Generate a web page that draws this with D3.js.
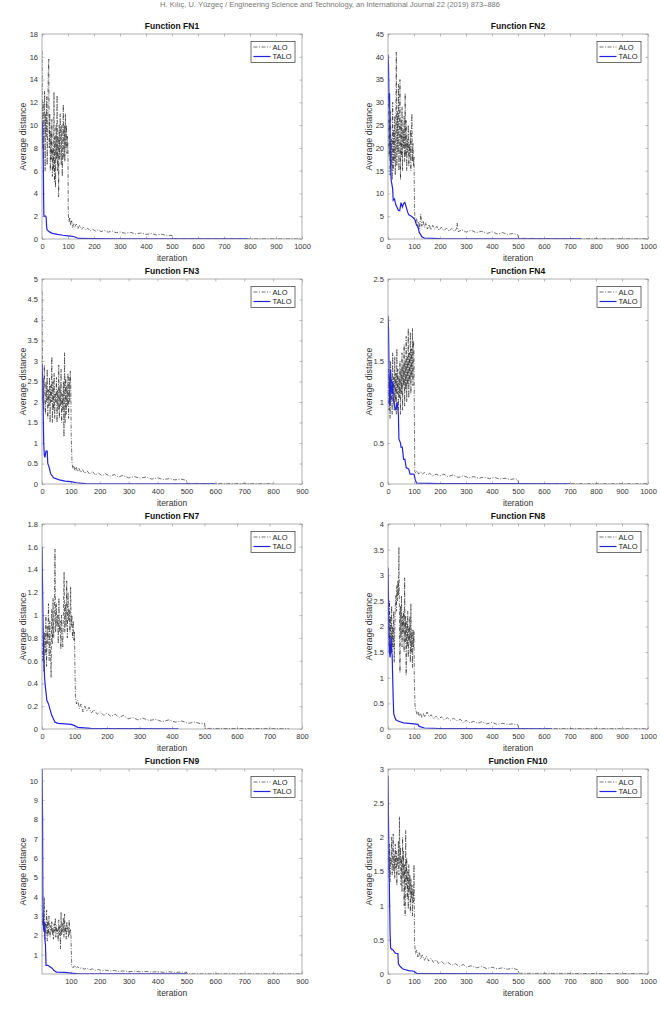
<!DOCTYPE html>
<html>
<head>
<meta charset="utf-8">
<script src="https://cdn.jsdelivr.net/npm/d3@7"></script>
<style>
  body { margin: 0; background: #fff; }
</style>
</head>
<body>
<div id="fig"></div>
<script>
// ALO: values at iterations 0,2,4,...,100 (head) and [iteration, value] pairs after (tail)
// TALO: [iteration, value] pairs

// ---- FN1 ----
const fn1AloHead = [16.5,8,12,7,10,13,6,11,9,12.5,6.5,10,14.5,15.8,8,11,6,9.5,7,10.5,5.5,8,6,12.9,5,9,4.5,10,7,12.6,6,9,3.7,10,7,11,8,6.5,10,5.5,9,11.8,7,10,6.8,11,8,10,7.5,9,8];
const fn1AloTail = [[101,2.2],[104,1.5],[107,1.9],[110,1.2],[114,1.6],[118,1.0],[122,1.4],[127,1.1],[132,1.3],[138,0.9],[145,1.2],[152,0.85],[160,1.05],[168,0.8],[176,0.95],[185,0.7],[195,0.85],[205,0.7],[215,0.8],[228,0.65],[240,0.75],[255,0.6],[270,0.7],[285,0.55],[300,0.62],[320,0.5],[340,0.58],[360,0.45],[380,0.52],[400,0.4],[420,0.48],[440,0.35],[460,0.42],[480,0.3],[500,0.32],[502,0.03],[600,0.02],[800,0.015],[1000,0.01]];
const fn1Talo = [[0,10.3],[2,10],[4,8],[5,6.5],[7,2.2],[8,2],[14,2],[16,1.9],[18,1.0],[20,0.8],[30,0.6],[40,0.5],[60,0.4],[80,0.33],[100,0.28],[110,0.25],[120,0.22],[130,0.15],[140,0.05],[200,0.03],[300,0.02],[500,0.01],[790,0.01]];
const fn1XTicks = [0,100,200,300,400,500,600,700,800,900,1000];
const fn1YTicks = [0,2,4,6,8,10,12,14,16,18];

// ---- FN2 ----
const fn2AloHead = [20,32,18,26,14,28,16,22,13,30,15,24,17,27,14,25,41,16,28,19,34,15,23,35,13,26,18,29,15,24,20,27,17,32,18,26,15,22,19,25,16,21,18,24,15,23,27.5,17,21,16,18];
const fn2AloTail = [[101,12],[103,5],[106,3.5],[110,4.5],[114,2.5],[118,3.8],[122,2.2],[126,5.5],[130,2.8],[135,4],[140,2.5],[146,3.6],[152,2.2],[158,3.2],[165,2],[172,3],[180,2.1],[188,2.8],[196,1.9],[205,2.6],[215,1.8],[225,2.4],[235,1.7],[245,2.3],[255,1.6],[263,2.2],[266,3.5],[270,1.6],[285,2],[300,1.5],[320,1.9],[340,1.4],[360,1.7],[380,1.2],[400,1.6],[420,1.1],[440,1.4],[460,1.0],[480,1.2],[500,0.9],[502,0.15],[600,0.1],[800,0.08],[1000,0.05]];
const fn2Talo = [[0,40.5],[2,38],[4,30],[6,32],[8,22],[10,17],[12,13],[15,12],[18,11],[20,8.5],[25,8.8],[30,7.5],[40,6.3],[45,6.2],[50,8],[55,7],[60,7.8],[65,8],[70,7],[75,6],[80,5.3],[90,5],[100,4.5],[105,4],[110,3],[115,2.8],[120,1.5],[130,0.5],[140,0.2],[200,0.1],[500,0.05],[740,0.05]];
const fn2XTicks = [0,100,200,300,400,500,600,700,800,900,1000];
const fn2YTicks = [0,5,10,15,20,25,30,35,40,45];

// ---- FN3 ----
const fn3AloHead = [4.7,2.0,2.6,1.8,2.9,2.2,1.7,2.5,2.0,2.8,1.6,2.3,1.9,2.6,1.5,2.4,2.0,3.1,1.5,2.5,1.8,2.7,1.6,2.2,2.0,2.6,1.5,2.3,1.8,2.9,1.6,2.4,1.9,2.8,1.5,2.2,1.8,2.5,1.15,3.2,1.5,2.6,1.7,2.4,1.9,2.7,1.6,2.6,2.0,2.75,2.3];
const fn3AloTail = [[101,1.2],[104,0.5],[107,0.38],[110,0.45],[114,0.33],[118,0.42],[123,0.3],[128,0.38],[134,0.28],[140,0.35],[148,0.26],[156,0.32],[165,0.24],[175,0.3],[185,0.22],[195,0.27],[208,0.2],[220,0.25],[235,0.19],[250,0.23],[265,0.17],[280,0.21],[300,0.15],[320,0.18],[340,0.14],[360,0.17],[380,0.12],[400,0.15],[420,0.11],[440,0.13],[460,0.1],[480,0.12],[500,0.09],[502,0.015],[600,0.01],[700,0.008],[800,0.005]];
const fn3Talo = [[0,2.9],[2,2.6],[4,1.8],[6,1.0],[8,0.7],[10,0.65],[14,0.8],[18,0.8],[20,0.5],[25,0.4],[30,0.25],[40,0.15],[60,0.1],[80,0.07],[100,0.06],[120,0.03],[150,0.01],[300,0.005],[600,0.003]];
const fn3XTicks = [0,100,200,300,400,500,600,700,800,900];
const fn3YTicks = [0,0.5,1,1.5,2,2.5,3,3.5,4,4.5,5];

// ---- FN4 ----
const fn4AloHead = [1.0,1.4,0.9,1.2,0.8,1.5,1.0,1.3,0.85,1.6,1.1,1.3,0.9,1.55,1.0,1.35,0.85,1.65,1.1,1.4,0.9,1.3,1.05,1.5,0.85,1.4,1.1,1.6,0.9,1.45,1.2,1.7,0.95,1.5,1.15,1.8,1.0,1.55,1.2,1.9,1.05,1.6,1.25,1.85,1.1,1.65,1.3,1.9,1.2,1.75,1.6];
const fn4AloTail = [[101,1.0],[103,0.15],[108,0.13],[112,0.16],[118,0.12],[125,0.15],[132,0.12],[140,0.14],[150,0.11],[160,0.13],[172,0.1],[185,0.12],[200,0.1],[215,0.12],[230,0.09],[250,0.11],[270,0.08],[290,0.1],[310,0.075],[330,0.09],[350,0.07],[370,0.085],[390,0.065],[410,0.08],[430,0.06],[450,0.07],[470,0.055],[490,0.065],[500,0.05],[502,0.005],[1000,0.003]];
const fn4Talo = [[0,2.05],[2,1.9],[4,1.4],[6,1.0],[8,0.95],[10,1.4],[12,1.2],[15,1.1],[18,1.25],[20,1.05],[25,0.95],[30,0.9],[35,1.0],[40,0.85],[42,0.55],[48,0.5],[50,0.45],[55,0.45],[60,0.3],[65,0.3],[70,0.2],[80,0.18],[85,0.12],[100,0.12],[105,0.05],[110,0.01],[200,0.005],[700,0.002]];
const fn4XTicks = [0,100,200,300,400,500,600,700,800,900,1000];
const fn4YTicks = [0,0.5,1,1.5,2,2.5];

// ---- FN7 ----
const fn7AloHead = [0.9,0.6,0.75,0.5,0.85,0.65,1.0,0.55,0.9,0.75,1.1,0.6,0.95,0.7,0.45,1.05,0.75,1.15,0.8,1.0,1.58,0.85,1.1,0.9,1.0,0.75,1.15,0.85,0.95,0.7,1.0,0.8,0.72,1.05,1.38,0.85,1.1,0.9,1.3,0.8,1.2,0.95,1.05,0.85,1.25,0.9,1.0,0.8,0.95,0.78,0.85];
const fn7AloTail = [[101,0.6],[103,0.28],[106,0.22],[110,0.25],[115,0.18],[120,0.22],[126,0.15],[132,0.2],[138,0.16],[145,0.19],[152,0.14],[160,0.17],[170,0.13],[180,0.15],[190,0.12],[200,0.14],[212,0.11],[225,0.13],[238,0.1],[250,0.12],[265,0.09],[280,0.1],[295,0.08],[310,0.095],[330,0.075],[350,0.085],[370,0.065],[390,0.08],[410,0.06],[430,0.07],[450,0.05],[470,0.06],[490,0.045],[500,0.05],[502,0.005],[760,0.003]];
const fn7Talo = [[0,1.6],[2,1.2],[4,0.8],[6,0.6],[8,0.45],[10,0.38],[15,0.25],[20,0.22],[30,0.12],[40,0.06],[50,0.05],[70,0.045],[90,0.04],[100,0.03],[110,0.015],[150,0.005],[420,0.002]];
const fn7XTicks = [0,100,200,300,400,500,600,700,800];
const fn7YTicks = [0,0.2,0.4,0.6,0.8,1,1.2,1.4,1.6,1.8];

// ---- FN8 ----
const fn8AloHead = [1.8,2.3,1.5,2.5,1.4,2.2,1.7,2.4,1.5,2.0,1.6,2.3,1.3,1.9,2.4,2.6,2.3,2.8,2.5,2.9,2.6,3.55,2.2,1.1,2.4,1.8,2.6,1.6,2.2,1.9,2.3,1.5,2.95,1.7,2.2,1.05,2.1,1.6,2.3,1.4,2.0,1.7,2.2,1.3,2.45,1.5,1.9,1.2,1.95,1.6,1.9];
const fn8AloTail = [[101,1.0],[104,0.45],[108,0.35],[112,0.28],[116,0.34],[120,0.25],[125,0.31],[130,0.22],[136,0.3],[142,0.23],[150,0.33],[158,0.24],[166,0.28],[175,0.2],[185,0.25],[195,0.19],[205,0.24],[215,0.18],[228,0.22],[240,0.17],[252,0.21],[265,0.16],[278,0.19],[290,0.12],[300,0.17],[315,0.12],[330,0.15],[345,0.11],[360,0.14],[380,0.1],[400,0.13],[420,0.09],[440,0.11],[460,0.09],[480,0.1],[500,0.08],[502,0.01],[1000,0.005]];
const fn8Talo = [[0,3.15],[2,2.5],[4,1.8],[6,1.5],[8,1.4],[10,1.6],[12,1.8],[14,1.5],[16,1.45],[18,1.0],[20,0.6],[22,0.3],[25,0.25],[30,0.18],[40,0.15],[60,0.12],[80,0.11],[100,0.1],[115,0.09],[120,0.05],[140,0.02],[200,0.01],[600,0.005],[630,0.003]];
const fn8XTicks = [0,100,200,300,400,500,600,700,800,900,1000];
const fn8YTicks = [0,0.5,1,1.5,2,2.5,3,3.5,4];

// ---- FN9 ----
const fn9AloHead = [4.0,2.5,3.0,2.2,3.95,1.8,2.6,2.1,3.3,1.7,2.8,2.0,3.0,2.3,1.9,2.5,2.2,2.7,2.0,2.4,1.8,2.6,2.2,2.9,1.9,2.5,2.1,2.3,1.7,2.8,2.0,2.5,1.3,3.2,2.0,2.6,2.2,2.9,1.9,3.1,2.1,2.5,1.8,2.7,2.2,2.4,1.9,2.8,2.0,2.3,2.1];
const fn9AloTail = [[101,1.5],[103,0.4],[108,0.32],[113,0.45],[118,0.3],[124,0.38],[130,0.28],[138,0.33],[146,0.25],[155,0.3],[165,0.22],[175,0.26],[185,0.19],[195,0.23],[208,0.17],[220,0.2],[235,0.15],[250,0.18],[265,0.13],[280,0.16],[300,0.12],[320,0.14],[340,0.11],[360,0.13],[380,0.1],[400,0.12],[420,0.09],[440,0.11],[460,0.08],[480,0.1],[500,0.08],[502,0.01],[900,0.005]];
const fn9Talo = [[0,10.6],[2,8],[3,4],[5,2.5],[7,2.2],[9,2.7],[10,1.8],[12,1.5],[14,0.45],[20,0.45],[25,0.4],[30,0.35],[35,0.3],[40,0.2],[50,0.1],[80,0.08],[100,0.05],[120,0.02],[200,0.01],[500,0.005]];
const fn9XTicks = [100,200,300,400,500,600,700,800,900];
const fn9YTicks = [1,2,3,4,5,6,7,8,9,10];

// ---- FN10 ----
const fn10AloHead = [1.4,1.8,1.5,1.9,1.35,1.7,1.6,2.0,1.45,1.8,2.05,1.5,1.75,1.4,1.9,1.55,1.8,1.3,1.7,1.6,1.95,1.45,2.3,1.6,1.85,1.3,1.7,1.2,2.0,1.4,1.8,1.0,1.6,0.85,2.1,1.3,1.7,1.1,1.5,0.95,1.6,1.2,1.45,0.9,1.4,1.1,1.3,0.85,1.25,1.05,1.6];
const fn10AloTail = [[101,1.2],[102,0.45],[106,0.3],[110,0.35],[115,0.25],[120,0.32],[126,0.22],[132,0.28],[140,0.2],[148,0.26],[156,0.19],[165,0.23],[175,0.17],[185,0.21],[195,0.15],[205,0.19],[218,0.14],[230,0.17],[245,0.13],[260,0.15],[275,0.11],[290,0.14],[300,0.1],[320,0.12],[340,0.09],[360,0.11],[380,0.08],[400,0.1],[420,0.075],[440,0.09],[460,0.07],[480,0.085],[500,0.06],[502,0.01],[1000,0.005]];
const fn10Talo = [[0,2.9],[2,2.2],[4,1.6],[6,1.1],[8,0.6],[10,0.38],[15,0.36],[20,0.35],[25,0.32],[30,0.3],[38,0.3],[40,0.15],[45,0.12],[55,0.08],[60,0.07],[80,0.05],[100,0.04],[110,0.01],[200,0.005],[500,0.003]];
const fn10XTicks = [0,100,200,300,400,500,600,700,800,900,1000];
const fn10YTicks = [0,0.5,1,1.5,2,2.5,3];

const seriesNames = ["ALO", "TALO"];

function alo(head, tail) {
  return head.map((v, i) => [i * 2, v]).concat(tail);
}

const panels = [
  {title: "Function FN1", col: 0, row: 0, xMax: 1000, yMax: 18, xt: fn1XTicks, yt: fn1YTicks, a: alo(fn1AloHead, fn1AloTail), t: fn1Talo},
  {title: "Function FN2", col: 1, row: 0, xMax: 1000, yMax: 45, xt: fn2XTicks, yt: fn2YTicks, a: alo(fn2AloHead, fn2AloTail), t: fn2Talo},
  {title: "Function FN3", col: 0, row: 1, xMax: 900, yMax: 5, xt: fn3XTicks, yt: fn3YTicks, a: alo(fn3AloHead, fn3AloTail), t: fn3Talo},
  {title: "Function FN4", col: 1, row: 1, xMax: 1000, yMax: 2.5, xt: fn4XTicks, yt: fn4YTicks, a: alo(fn4AloHead, fn4AloTail), t: fn4Talo},
  {title: "Function FN7", col: 0, row: 2, xMax: 800, yMax: 1.8, xt: fn7XTicks, yt: fn7YTicks, a: alo(fn7AloHead, fn7AloTail), t: fn7Talo},
  {title: "Function FN8", col: 1, row: 2, xMax: 1000, yMax: 4, xt: fn8XTicks, yt: fn8YTicks, a: alo(fn8AloHead, fn8AloTail), t: fn8Talo},
  {title: "Function FN9", col: 0, row: 3, xMax: 900, yMax: 10.6, xt: fn9XTicks, yt: fn9YTicks, a: alo(fn9AloHead, fn9AloTail), t: fn9Talo},
  {title: "Function FN10", col: 1, row: 3, xMax: 1000, yMax: 3, xt: fn10XTicks, yt: fn10YTicks, a: alo(fn10AloHead, fn10AloTail), t: fn10Talo}
];

const width = 661, height = 1010;
const colLeft = [42, 388];
const rowTop = [34, 279, 524, 769];
const visWidth = 260, visHeight = 205;
const tickLen = 2.5;

const svg = d3.select("#fig").append("svg")
    .attr("width", width)
    .attr("height", height)
    .style("font-family", "'Liberation Sans', Arial, sans-serif");

// running header of the page
svg.append("text")
    .attr("x", 330)
    .attr("y", 7)
    .attr("text-anchor", "middle")
    .attr("font-size", "7.5px")
    .attr("fill", "#777")
    .text("H. Kılıç, U. Yüzgeç / Engineering Science and Technology, an International Journal 22 (2019) 873–886");

panels.forEach(function(p, k) {
  const g = svg.append("g")
      .attr("transform", `translate(${colLeft[p.col]}, ${rowTop[p.row]})`);

  const xscale = d3.scaleLinear().domain([0, p.xMax]).range([0, visWidth]);
  const yscale = d3.scaleLinear().domain([0, p.yMax]).range([visHeight, 0]);

  g.append("rect")
      .attr("width", visWidth)
      .attr("height", visHeight)
      .attr("fill", "#fff");

  // clip
  g.append("clipPath").attr("id", "clip" + k)
    .append("rect").attr("width", visWidth).attr("height", visHeight);

  // axes, MATLAB style: ticks inward on all four sides
  const styleAxis = function(sel) {
    sel.select(".domain").remove();
    sel.selectAll("line").attr("stroke", "#8c8c8c").attr("stroke-width", 0.6);
    sel.selectAll("text").attr("fill", "#333").attr("font-size", "7.5px");
  };

  g.append("g")
      .call(d3.axisLeft(yscale).tickValues(p.yt).tickFormat(d => String(d))
        .tickSizeInner(-tickLen).tickSizeOuter(0).tickPadding(4))
      .call(styleAxis);
  g.append("g")
      .attr("transform", `translate(${visWidth},0)`)
      .call(d3.axisRight(yscale).tickValues(p.yt).tickFormat("")
        .tickSizeInner(-tickLen).tickSizeOuter(0))
      .call(styleAxis);
  g.append("g")
      .attr("transform", `translate(0,${visHeight})`)
      .call(d3.axisBottom(xscale).tickValues(p.xt).tickFormat(d => String(d))
        .tickSizeInner(-tickLen).tickSizeOuter(0).tickPadding(4.5))
      .call(styleAxis);
  g.append("g")
      .call(d3.axisTop(xscale).tickValues(p.xt).tickFormat("")
        .tickSizeInner(-tickLen).tickSizeOuter(0))
      .call(styleAxis);

  // lines
  const line = d3.line()
      .x(d => xscale(d[0]))
      .y(d => yscale(d[1]));

  const lines = g.append("g").attr("clip-path", `url(#clip${k})`);
  lines.append("path")
      .datum(p.a)
      .attr("fill", "none")
      .attr("stroke", "#111")
      .attr("stroke-width", 0.6)
      .attr("stroke-dasharray", "4,1.5,1,1.5")
      .attr("d", line);
  lines.append("path")
      .datum(p.t)
      .attr("fill", "none")
      .attr("stroke", "#2323e0")
      .attr("stroke-width", 1.2)
      .attr("d", line);

  // box
  g.append("rect")
      .attr("width", visWidth)
      .attr("height", visHeight)
      .attr("fill", "none")
      .attr("stroke", "#8c8c8c")
      .attr("stroke-width", 0.7);

  // title
  g.append("text")
      .attr("x", visWidth / 2)
      .attr("y", -5.5)
      .attr("text-anchor", "middle")
      .attr("font-size", "8.5px")
      .attr("font-weight", "bold")
      .attr("fill", "#111")
      .text(p.title);

  // axis labels
  g.append("text")
      .attr("x", visWidth / 2)
      .attr("y", visHeight + 21.5)
      .attr("text-anchor", "middle")
      .attr("font-size", "8.5px")
      .attr("fill", "#333")
      .text("iteration");
  g.append("text")
      .attr("transform", `translate(-16,${visHeight / 2}) rotate(-90)`)
      .attr("text-anchor", "middle")
      .attr("font-size", "8.8px")
      .attr("fill", "#333")
      .text("Average distance");

  // legend
  const lg = g.append("g").attr("transform", `translate(${visWidth - 51}, 7.5)`);
  lg.append("rect")
      .attr("width", 44)
      .attr("height", 21)
      .attr("fill", "#fff")
      .attr("stroke", "#333")
      .attr("stroke-width", 0.7);
  seriesNames.forEach(function(name, i) {
    const yy = 5.5 + i * 9.5;
    lg.append("line")
        .attr("x1", 2.5).attr("x2", 19.5)
        .attr("y1", yy).attr("y2", yy)
        .attr("stroke", i === 0 ? "#111" : "#2323e0")
        .attr("stroke-width", i === 0 ? 0.6 : 1.2)
        .attr("stroke-dasharray", i === 0 ? "4,1.5,1,1.5" : null);
    lg.append("text")
        .attr("x", 21.5)
        .attr("y", yy + 2.6)
        .attr("font-size", "7.5px")
        .attr("fill", "#222")
        .text(name);
  });
});
</script>
</body>
</html>
